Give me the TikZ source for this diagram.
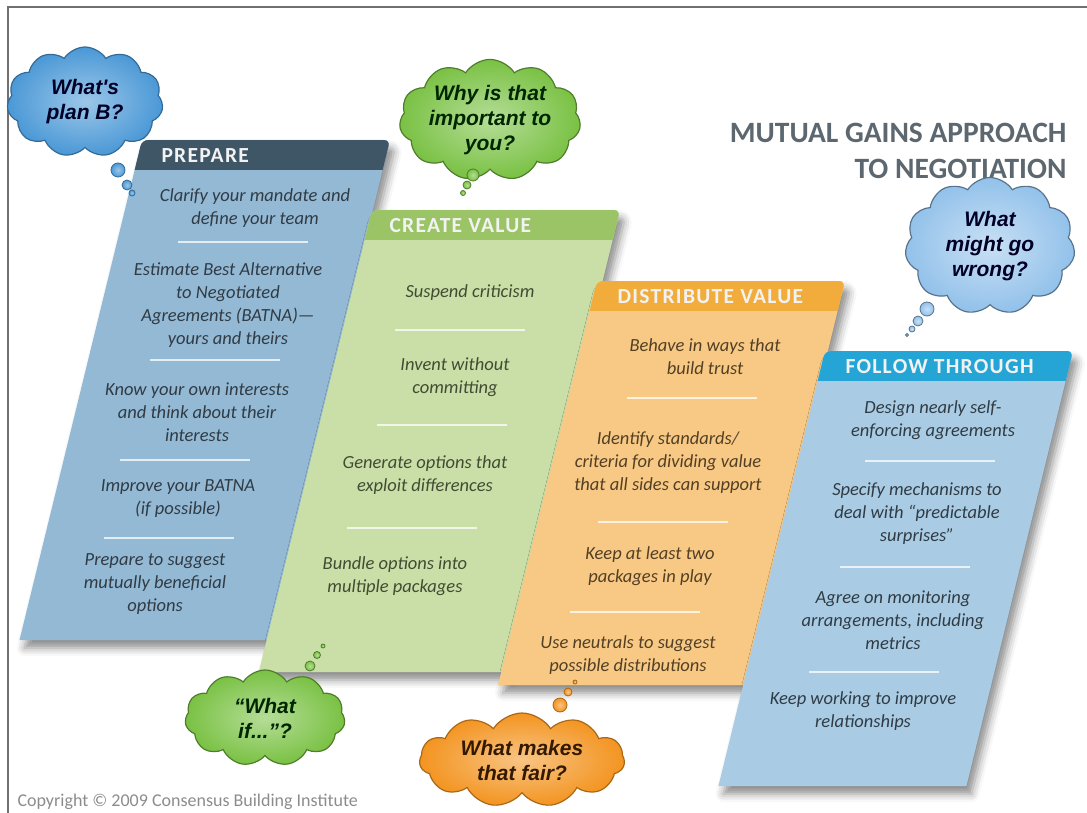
\documentclass[tikz,border=0pt]{standalone}
\usepackage{fontspec}
\setmainfont{Carlito}
\newfontfamily\bubblefont{Liberation Sans}
\newfontfamily\headfont[LetterSpace=6]{Carlito}
\usetikzlibrary{shapes.symbols,shadows.blur}

\definecolor{prepHead}{HTML}{3E5666}
\definecolor{prepBody}{HTML}{93B9D5}
\definecolor{prepText}{HTML}{303B44}
\definecolor{createHead}{HTML}{9BC466}
\definecolor{createBody}{HTML}{CADFA7}
\definecolor{createText}{HTML}{414C33}
\definecolor{distHead}{HTML}{F1AC3B}
\definecolor{distBody}{HTML}{F8C985}
\definecolor{distText}{HTML}{523F24}
\definecolor{followHead}{HTML}{25A5D6}
\definecolor{followBody}{HTML}{A9CCE4}
\definecolor{titleGrey}{HTML}{5C6770}
\definecolor{frameGrey}{HTML}{707070}
\definecolor{planBlue}{HTML}{4A98D6}
\definecolor{lightBlue}{HTML}{92C1EA}
\definecolor{leafGreen}{HTML}{79C143}
\definecolor{fairOrange}{HTML}{F39420}

% slanted stage: left x, top y, bottom y, head colour, body colour
\def\slant{0.245}
\newcommand{\stagebox}[5]{%
  \fill[#5,blur shadow={shadow xshift=5pt,shadow yshift=-8pt,shadow blur radius=8pt,shadow opacity=45}]
    ({#1-\slant*(#3-#2)},#3) [rounded corners=6pt] -- (#1,#2) -- (#1+248,#2) [sharp corners] -- ({#1+248-\slant*(#3-#2)},#3) -- cycle;
  \begin{scope}
    \clip ({#1-\slant*(#3-#2)},#3) [rounded corners=6pt] -- (#1,#2) -- (#1+248,#2) [sharp corners] -- ({#1+248-\slant*(#3-#2)},#3) -- cycle;
    \fill[#4] (#1-20,#2) rectangle (#1+260,#2+30);
  \end{scope}
}
% white separator centred at x,y
\newcommand{\sep}[2]{\draw[sepline] (#1-65,#2) -- (#1+65,#2);}

\begin{document}
\begin{tikzpicture}[x=1pt,y=-1pt,
    item/.style={font=\fontsize{18.5}{23}\selectfont\itshape,align=center},
    head/.style={font=\headfont\fontsize{21.5}{24}\selectfont\bfseries,text=white!95!black,anchor=west},
    sepline/.style={white,opacity=0.75,line width=2.5pt},
    thought/.style={cloud,cloud puffs=11,cloud puff arc=115,cloud ignores aspect,line width=1.2pt,
        font=\bubblefont\bfseries\itshape\fontsize{21}{25}\selectfont,align=center,inner sep=0pt},
    bubble/.style={line width=0.8pt}]

    \useasboundingbox (0,0) rectangle (1087,813);
    \draw[frameGrey,line width=2pt] (8,813) -- (8,7) -- (1087,7);

    % title
    \node[font=\fontsize{29.5}{36}\selectfont\bfseries,text=titleGrey,anchor=base east] (title1) at (1070,143) {MUTUAL GAINS APPROACH};
    \node[font=\fontsize{29.5}{36}\selectfont\bfseries,text=titleGrey,anchor=base east] (title2) at (1070,179) {TO NEGOTIATION};

    % PREPARE
    \stagebox{142}{140}{640}{prepHead}{prepBody}
    \node[head] (prepare) at (158,156) {PREPARE};
    \begin{scope}[text=prepText]
        \node[item] (prep1) at (255,208) {Clarify your mandate and\\define your team};
        \sep{243}{242}
        \node[item] (prep2) at (228,305) {Estimate Best Alternative\\to Negotiated\\Agreements (BATNA)—\\yours and theirs};
        \sep{215}{360}
        \node[item] (prep3) at (197,412) {Know your own interests\\and think about their\\interests};
        \sep{185}{460}
        \node[item] (prep4) at (178,499) {Improve your BATNA\\(if possible)};
        \sep{169}{538}
        \node[item] (prep5) at (155,584) {Prepare to suggest\\mutually beneficial\\options};
    \end{scope}

    % CREATE VALUE
    \stagebox{372}{210}{672}{createHead}{createBody}
    \node[head] (create) at (386,226) {CREATE VALUE};
    \begin{scope}[text=createText]
        \node[item] (create1) at (470,293) {Suspend criticism};
        \sep{460}{330}
        \node[item] (create2) at (455,377) {Invent without\\committing};
        \sep{442}{425}
        \node[item] (create3) at (425,475) {Generate options that\\exploit differences};
        \sep{412}{528}
        \node[item] (create4) at (395,576) {Bundle options into\\multiple packages};
    \end{scope}

    % DISTRIBUTE VALUE
    \stagebox{597}{281}{685}{distHead}{distBody}
    \node[head] (distribute) at (614,297) {DISTRIBUTE VALUE};
    \begin{scope}[text=distText]
        \node[item] (dist1) at (705,357) {Behave in ways that\\build trust};
        \sep{692}{398}
        \node[item] (dist2) at (668,463) {Identify standards/\\criteria for dividing value\\that all sides can support};
        \sep{663}{522}
        \node[item] (dist3) at (650,566) {Keep at least two\\packages in play};
        \sep{635}{612}
        \node[item] (dist4) at (628,655) {Use neutrals to suggest\\possible distributions};
    \end{scope}

    % FOLLOW THROUGH
    \stagebox{825}{351}{786}{followHead}{followBody}
    \node[head] (follow) at (842,367) {FOLLOW THROUGH};
    \begin{scope}[text=prepText]
        \node[item] (follow1) at (933,420) {Design nearly self-\\enforcing agreements};
        \sep{930}{461}
        \node[item] (follow2) at (917,514) {Specify mechanisms to\\deal with “predictable\\surprises”};
        \sep{905}{567}
        \node[item] (follow3) at (893,620) {Agree on monitoring\\arrangements, including\\metrics};
        \sep{874}{672}
        \node[item] (follow4) at (863,711) {Keep working to improve\\relationships};
    \end{scope}

    % thought clouds
    \node[thought,draw=planBlue!70!black,inner color=planBlue!55!white,outer color=planBlue,text=black!85!blue,
        minimum width=156pt,minimum height=110pt] (planB) at (85,102) {What's\\plan B?};
    \foreach \x/\y/\r in {118/170/7,127/185/5,132/193/3}
        \draw[bubble,draw=planBlue!70!black,inner color=planBlue!55!white,outer color=planBlue] (\x,\y) circle[radius=\r pt];

    \node[thought,draw=leafGreen!65!black,inner color=leafGreen!55!white,outer color=leafGreen,text=black!85!green,
        minimum width=170pt,minimum height=110pt] (why) at (490,120) {Why is that\\important to\\you?};
    \foreach \x/\y/\r in {473/175/6,467/185/4,463/193/2.5}
        \draw[bubble,draw=leafGreen!65!black,inner color=leafGreen!55!white,outer color=leafGreen] (\x,\y) circle[radius=\r pt];

    \node[thought,draw=leafGreen!65!black,inner color=leafGreen!55!white,outer color=leafGreen,text=black!85!green,
        minimum width=160pt,minimum height=96pt] (whatif) at (265,718) {“What\\if...”?};
    \foreach \x/\y/\r in {310/666/5,317/655/3.5,323/646/2}
        \draw[bubble,draw=leafGreen!65!black,inner color=leafGreen!55!white,outer color=leafGreen] (\x,\y) circle[radius=\r pt];

    \node[thought,draw=fairOrange!70!black,inner color=fairOrange!55!white,outer color=fairOrange,text=black!80!orange,
        minimum width=205pt,minimum height=94pt] (fair) at (522,760) {What makes\\that fair?};
    \foreach \x/\y/\r in {560/705/7,568/692/4,575/682/2}
        \draw[bubble,draw=fairOrange!70!black,inner color=fairOrange!55!white,outer color=fairOrange] (\x,\y) circle[radius=\r pt];

    \node[thought,draw=lightBlue!60!black,inner color=lightBlue!50!white,outer color=lightBlue,text=black!85!blue,
        minimum width=170pt,minimum height=137pt] (wrong) at (990,246) {What\\might go\\wrong?};
    \foreach \x/\y/\r in {927/309/7,918/321/5,912/329/3,907/335/1.5}
        \draw[bubble,draw=lightBlue!60!black,inner color=lightBlue!50!white,outer color=lightBlue] (\x,\y) circle[radius=\r pt];

    \node[anchor=base west,font=\fontsize{18}{20}\selectfont,text=black!45] (copyright) at (14,806) {Copyright © 2009 Consensus Building Institute};
\end{tikzpicture}
\end{document}
